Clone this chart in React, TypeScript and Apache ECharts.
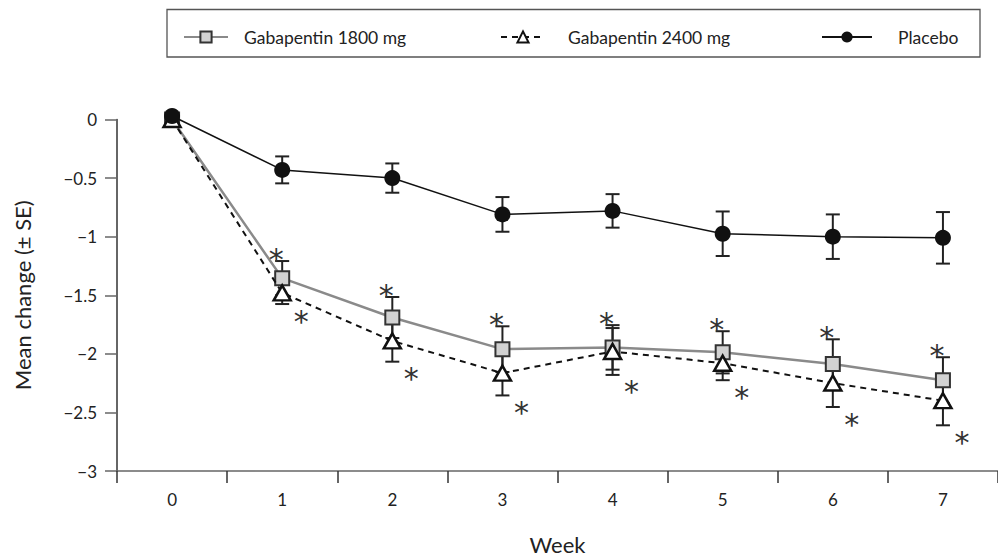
import React, { useEffect, useRef } from 'react';
import * as echarts from 'echarts';

const weeks = ['0', '1', '2', '3', '4', '5', '6', '7'];

const placeboMean = [0.03, -0.43, -0.5, -0.81, -0.78, -0.975, -1.0, -1.01];
const placeboSE = [0, 0.115, 0.125, 0.148, 0.143, 0.19, 0.19, 0.22];

const gaba1800Mean = [0, -1.354, -1.69, -1.96, -1.945, -1.987, -2.086, -2.226];
const gaba1800SE = [0, 0.146, 0.175, 0.195, 0.19, 0.18, 0.21, 0.197];

const gaba2400Mean = [0, -1.48, -1.89, -2.165, -1.98, -2.08, -2.249, -2.4];
const gaba2400SE = [0, 0.095, 0.177, 0.19, 0.2, 0.145, 0.205, 0.21];

const sig1800 = [0, 1, 1, 1, 1, 1, 1, 1];
const sig2400 = [0, 1, 1, 1, 1, 1, 1, 1];

const NAME_1800 = 'Gabapentin 1800 mg';
const NAME_2400 = 'Gabapentin 2400 mg';
const NAME_PLACEBO = 'Placebo';

const FONT = 'Lato, "Open Sans", sans-serif';
const TEXT_COLOR = '#222';

const errData = (mean: number[], se: number[]) => mean.map((m, i) => [i, m, se[i]]);

const errRender = (color: string) => (params: any, api: any) => {
  const i = api.value(0);
  const m = api.value(1);
  const s = api.value(2);
  if (!s) return null;
  const top = api.coord([i, m + s]);
  const bot = api.coord([i, m - s]);
  const hw = 7;
  const style = { stroke: color, lineWidth: 2 };
  return {
    type: 'group',
    children: [
      { type: 'line', shape: { x1: top[0], y1: top[1], x2: bot[0], y2: bot[1] }, style },
      { type: 'line', shape: { x1: top[0] - hw, y1: top[1], x2: top[0] + hw, y2: top[1] }, style },
      { type: 'line', shape: { x1: bot[0] - hw, y1: bot[1], x2: bot[0] + hw, y2: bot[1] }, style },
    ],
  };
};

const starRender = (above: boolean) => (params: any, api: any) => {
  const i = api.value(0);
  const m = api.value(1);
  const s = api.value(2);
  const flag = api.value(3);
  if (!flag) return null;
  const p = api.coord([i, above ? m + s : m - s]);
  const dx = above ? -6 : 19;
  const dy = above ? -2 : 17;
  return {
    type: 'text',
    style: {
      text: '*',
      x: p[0] + dx,
      y: p[1] + dy,
      fill: '#333',
      font: '30px "DejaVu Sans", sans-serif',
      align: 'center',
      verticalAlign: 'middle',
    },
  };
};

const starData = (mean: number[], se: number[], sig: number[]) =>
  mean.map((m, i) => [i, m, se[i], sig[i]]);

export default function App() {
  const ref = useRef<HTMLDivElement>(null);

  useEffect(() => {
    if (!ref.current) return;
    const chart = echarts.init(ref.current, undefined, { renderer: 'svg' });

    const legendText = (pad: number) => ({
      fontFamily: FONT,
      fontSize: 17.5,
      color: TEXT_COLOR,
      padding: [0, 0, 0, pad],
    });
    const legendBase = {
      top: 28,
      padding: 0,
      itemHeight: 14,
      itemWidth: 44,
    };

    chart.setOption({
      animation: false,
      backgroundColor: '#fff',
      textStyle: { fontFamily: FONT },
      graphic: [
        {
          type: 'rect',
          shape: { x: 167, y: 9.5, width: 813, height: 47.5 },
          style: { fill: 'none', stroke: '#555', lineWidth: 1.3 },
          silent: true,
        },
      ],
      legend: [
        { ...legendBase, left: 183, textStyle: legendText(11), data: [NAME_1800] },
        { ...legendBase, left: 500, textStyle: legendText(18), data: [NAME_2400] },
        { ...legendBase, left: 821, itemWidth: 50, textStyle: legendText(21), data: [NAME_PLACEBO] },
      ],
      grid: { left: 117, right: -8, top: 119.5, bottom: 85, containLabel: false },
      xAxis: {
        type: 'category',
        data: weeks,
        boundaryGap: true,
        name: 'Week',
        nameLocation: 'middle',
        nameGap: 62,
        nameTextStyle: { fontFamily: FONT, fontSize: 22, color: TEXT_COLOR },
        axisLine: { onZero: false, lineStyle: { color: '#666', width: 1.5 } },
        axisTick: { show: true, inside: false, length: 12, interval: 0, lineStyle: { color: '#333', width: 1.5 } },
        axisLabel: { margin: 20, fontFamily: FONT, fontSize: 17, color: TEXT_COLOR },
        splitLine: { show: false },
      },
      yAxis: {
        type: 'value',
        min: -3,
        max: 0,
        interval: 0.5,
        name: 'Mean change (± SE)',
        nameLocation: 'middle',
        nameGap: 84,
        nameTextStyle: { fontFamily: FONT, fontSize: 22, color: TEXT_COLOR },
        axisLine: { show: true, lineStyle: { color: '#333', width: 1.5 } },
        axisTick: { show: true, inside: false, length: 12, lineStyle: { color: '#666', width: 1.5 } },
        axisLabel: {
          margin: 20,
          fontFamily: FONT,
          fontSize: 17,
          color: TEXT_COLOR,
          formatter: (v: number) => (v === 0 ? '0' : '\u2212' + Math.abs(v)),
        },
        splitLine: { show: false },
      },
      series: [
        {
          type: 'custom',
          name: 'err-placebo',
          data: errData(placeboMean, placeboSE),
          renderItem: errRender('#222'),
          encode: { x: 0, y: 1 },
          clip: false,
          z: 2,
          silent: true,
        },
        {
          type: 'custom',
          name: 'err-1800',
          data: errData(gaba1800Mean, gaba1800SE),
          renderItem: errRender('#222'),
          encode: { x: 0, y: 1 },
          clip: false,
          z: 2,
          silent: true,
        },
        {
          type: 'custom',
          name: 'err-2400',
          data: errData(gaba2400Mean, gaba2400SE),
          renderItem: errRender('#222'),
          encode: { x: 0, y: 1 },
          clip: false,
          z: 2,
          silent: true,
        },
        {
          type: 'line',
          name: NAME_1800,
          data: gaba1800Mean,
          symbol: 'rect',
          symbolSize: 14,
          showAllSymbol: true,
          clip: false,
          z: 3,
          lineStyle: { color: '#8a8a8a', width: 2.5 },
          itemStyle: { color: '#d2d2d2', borderColor: '#333', borderWidth: 2 },
        },
        {
          type: 'line',
          name: NAME_2400,
          data: gaba2400Mean,
          symbol: 'triangle',
          symbolSize: [17, 15],
          showAllSymbol: true,
          clip: false,
          z: 4,
          lineStyle: { color: '#111', width: 2, type: [6, 5] },
          itemStyle: { color: '#fff', borderColor: '#111', borderWidth: 2.5 },
        },
        {
          type: 'line',
          name: NAME_PLACEBO,
          data: placeboMean,
          symbol: 'circle',
          symbolSize: 16,
          showAllSymbol: true,
          clip: false,
          z: 5,
          lineStyle: { color: '#111', width: 1.5 },
          itemStyle: { color: '#111' },
        },
        {
          type: 'custom',
          name: 'stars-1800',
          data: starData(gaba1800Mean, gaba1800SE, sig1800),
          renderItem: starRender(true),
          encode: { x: 0, y: 1 },
          clip: false,
          z: 6,
          silent: true,
        },
        {
          type: 'custom',
          name: 'stars-2400',
          data: starData(gaba2400Mean, gaba2400SE, sig2400),
          renderItem: starRender(false),
          encode: { x: 0, y: 1 },
          clip: false,
          z: 6,
          silent: true,
        },
      ],
    });

    return () => chart.dispose();
  }, []);

  return (
    <div
      ref={ref}
      style={{ position: 'fixed', left: 0, top: 0, width: 998, height: 560, overflow: 'hidden', background: '#fff' }}
    />
  );
}
